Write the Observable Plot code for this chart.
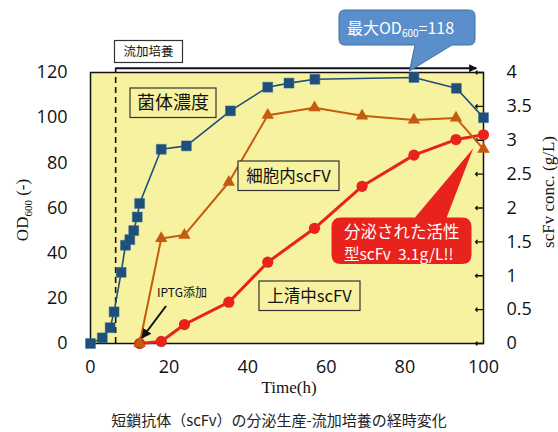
<!DOCTYPE html>
<html><head><meta charset="utf-8">
<script src="https://cdn.jsdelivr.net/npm/d3@7"></script>
<script src="https://cdn.jsdelivr.net/npm/@observablehq/plot@0.6"></script>
<style>
body{margin:0;background:#fff;}
#cap{font-family:"Noto Sans CJK JP";font-size:15px;color:#222;text-align:center;width:558px;line-height:20px;margin-top:10px;}
</style></head><body>
<div id="chart"></div>
<div id="cap">短鎖抗体（scFv）の分泌生産-流加培養の経時変化</div>
<script>
// Cell density (OD600, left axis)
const odTime  = [0, 3, 5, 6, 7.8, 8.9, 10, 11, 11.9, 12.5, 18, 24.4, 35.6, 45.1, 50.5, 57.1, 82.3, 93.1, 100];
const odValue = [0, 2.5, 7, 14, 31.5, 43.5, 46, 50, 56, 62, 86, 87.5, 103, 113.5, 115.3, 117, 117.8, 113, 100];
// scFv (g/L, right axis)
const scTime     = [12.5, 18, 23.9, 35.2, 45.1, 57, 69.1, 82.3, 93, 100];
const intraValue = [0, 1.55, 1.6, 2.38, 3.37, 3.48, 3.36, 3.3, 3.33, 2.87];
const superValue = [0, 0.03, 0.28, 0.61, 1.2, 1.7, 2.32, 2.78, 3.01, 3.08];
// ticks
const xTicks = [0, 20, 40, 60, 80, 100];
const leftTicks = [0, 20, 40, 60, 80, 100, 120];
const rightTicks = [0, 0.5, 1, 1.5, 2, 2.5, 3, 3.5, 4];
const leftMax = 120, rightMax = 4;
const k = leftMax / rightMax;
const feedStart = 6.4, feedEnd = 98.3, feedLevel = 121.7;

const od = odTime.map((t, i) => ({t, v: odValue[i]}));
const intra = scTime.map((t, i) => ({t, v: intraValue[i] * k}));
const sup = scTime.map((t, i) => ({t, v: superValue[i] * k}));

const BLUE = "#1f4e79", ORANGE = "#c55a11", RED = "#e8221c";

const plot = Plot.plot({
  width: 558, height: 400,
  marginLeft: 90, marginRight: 75, marginTop: 72, marginBottom: 57,
  x: {domain: [0, 100]},
  y: {domain: [0, leftMax]},
  style: {fontFamily: "Open Sans", fontSize: "18px", color: "#111", background: "white", overflow: "visible"},
  marks: [
    Plot.frame({fill: "#f7f29f", stroke: "#111", strokeWidth: 1.5}),
    Plot.axisX(xTicks, {tickSize: 0, tickPadding: 17, label: null, fontSize: 18}),
    Plot.axisY(leftTicks, {anchor: "left", tickSize: 0, tickPadding: 23, label: null, fontSize: 18}),
    Plot.axisY(rightTicks.map(d => d * k), {anchor: "right", tickSize: 0, tickPadding: 23, label: null, fontSize: 18, tickFormat: d => String(d / k)}),
    Plot.vector(rightTicks.map(d => d * k), {x: () => 100, y: d => d, length: 8, rotate: -90, anchor: "start", stroke: "#111", strokeWidth: 1.3}),
    Plot.ruleX([feedStart], {y1: 0, y2: feedLevel, stroke: "#111", strokeWidth: 1.6, strokeDasharray: "6,4"}),
    Plot.line(od, {x: "t", y: "v", stroke: BLUE, strokeWidth: 1.6}),
    Plot.dot(od, {x: "t", y: "v", symbol: "square", r: 5.6, fill: BLUE, stroke: "#2e6da4", strokeWidth: 0.5}),
    Plot.line(sup, {x: "t", y: "v", stroke: RED, strokeWidth: 3}),
    Plot.dot(sup, {x: "t", y: "v", r: 5.6, fill: RED}),
    Plot.line(intra, {x: "t", y: "v", stroke: ORANGE, strokeWidth: 2}),
    Plot.dot(intra, {x: "t", y: "v", symbol: "triangle", r: 4.6, fill: ORANGE})
  ]
});
document.getElementById("chart").appendChild(plot);

const svg = d3.select(plot);
const xs = plot.scale("x").apply, ys = plot.scale("y").apply;
const defs = svg.append("defs");
defs.append("marker").attr("id", "ah").attr("viewBox", "0 0 10 10").attr("refX", 9).attr("refY", 5)
  .attr("markerWidth", 4).attr("markerHeight", 4).attr("orient", "auto")
  .append("path").attr("d", "M0,0 L10,5 L0,10 Z").attr("fill", "#111");
defs.append("marker").attr("id", "ah2").attr("viewBox", "0 0 10 10").attr("refX", 9).attr("refY", 5)
  .attr("markerWidth", 5).attr("markerHeight", 5).attr("orient", "auto")
  .append("path").attr("d", "M0,0 L10,5 L0,10 Z").attr("fill", "#111");

const g = svg.append("g").attr("text-anchor", "start");
// feeding arrow
g.append("line").attr("x1", xs(feedStart)).attr("x2", xs(feedEnd)).attr("y1", ys(feedLevel)).attr("y2", ys(feedLevel))
  .attr("stroke", "#111").attr("stroke-width", 2).attr("marker-end", "url(#ah)");

// axis titles
g.append("text").attr("x", 289).attr("y", 393).attr("text-anchor", "middle")
  .attr("font-family", "Liberation Serif").attr("font-size", 17).attr("fill", "#111").text("Time(h)");
const tl = g.append("text").attr("transform", "translate(28,210) rotate(-90)").attr("text-anchor", "middle")
  .attr("font-family", "Liberation Serif").attr("font-size", 17).attr("fill", "#111");
tl.append("tspan").text("OD");
tl.append("tspan").attr("font-size", 11).attr("dy", 4).text("600");
tl.append("tspan").attr("dy", -4).text(" (-)");
g.append("text").attr("transform", "translate(554,192) rotate(-90)").attr("text-anchor", "middle")
  .attr("font-family", "Liberation Serif").attr("font-size", 17).attr("fill", "#111").text("scFv conc. (g/L)");

const jp = "Noto Sans CJK JP";
function box(x, y, w, h, fill, txt, fs) {
  g.append("rect").attr("x", x).attr("y", y).attr("width", w).attr("height", h)
    .attr("fill", fill).attr("stroke", "#333").attr("stroke-width", 1.2);
  g.append("text").attr("x", x + w / 2).attr("y", y + h / 2).attr("dy", "0.36em").attr("text-anchor", "middle")
    .attr("font-family", jp).attr("font-size", fs).attr("fill", "#111").text(txt);
}
box(114.5, 40.5, 68, 22, "white", "流加培養", 12.5);
box(130, 88, 86, 29.5, "#f7f29f", "菌体濃度", 18);
box(238, 161, 101, 29.5, "#f7f29f", "細胞内scFV", 16.5);
box(259, 281, 101, 29.5, "#f7f29f", "上清中scFV", 16.5);

// IPTG
g.append("text").attr("x", 157).attr("y", 297).attr("text-anchor", "start").attr("font-family", jp).attr("font-size", 12).attr("fill", "#111").text("IPTG添加");
g.append("line").attr("x1", 166).attr("y1", 306).attr("x2", 142).attr("y2", 338)
  .attr("stroke", "#111").attr("stroke-width", 2).attr("marker-end", "url(#ah2)");

// blue callout
g.append("path").attr("d", "M345,10 H469 Q475,10 475,16 V39 Q475,45 469,45 H452 L409.5,71 L415,45 H345 Q339,45 339,39 V16 Q339,10 345,10 Z")
  .attr("fill", "#5b8fcb").attr("stroke", "#41719c").attr("stroke-width", 1);
const bt = g.append("text").attr("x", 347).attr("y", 34).attr("text-anchor", "start").attr("font-family", jp).attr("font-size", 16).attr("fill", "white");
bt.append("tspan").text("最大OD");
bt.append("tspan").attr("font-size", 10).attr("dy", 3).text("600");
bt.append("tspan").attr("dy", -3).text("=118");

// red callout
g.append("path").attr("d", "M341,217.5 H415 L473.3,148.3 L446.7,217.5 H462 Q471.5,217.5 471.5,227 V254.5 Q471.5,264 462,264 H341 Q331.5,264 331.5,254.5 V227 Q331.5,217.5 341,217.5 Z")
  .attr("fill", RED);
g.append("text").attr("x", 344).attr("y", 238).attr("text-anchor", "start").attr("font-family", jp).attr("font-size", 16.5).attr("fill", "white").text("分泌された活性");
g.append("text").attr("x", 344).attr("y", 260).attr("text-anchor", "start").attr("font-family", jp).attr("font-size", 15.5).attr("fill", "white")
  .text("型scFv\u00a0\u00a03.1g/L!!");
</script>
</body></html>
